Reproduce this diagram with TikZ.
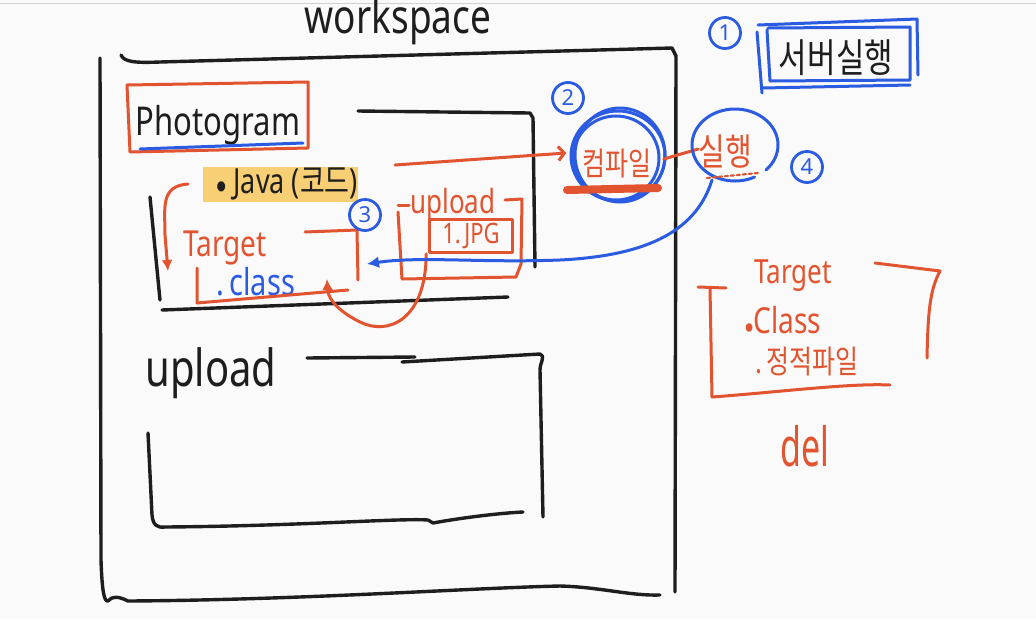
\documentclass[tikz,border=0pt]{standalone}
\usepackage{fontspec}
\usepackage{graphicx}
\setmainfont{Noto Sans}
\newfontfamily\kr{Noto Sans CJK KR}
\usepackage{tikz}
\usetikzlibrary{arrows.meta,calc,positioning}
\definecolor{inkblack}{HTML}{1E1E1E}
\definecolor{inkred}{HTML}{E2542F}
\definecolor{inkblue}{HTML}{2B5BE0}
\definecolor{marker}{HTML}{F8CF74}
\definecolor{paper}{HTML}{FAFAFA}
\newcommand{\fs}[1]{\fontsize{#1}{#1}\selectfont}
\newcommand{\hand}[1]{\scalebox{1}[1.28]{#1}}
\tikzset{
  every picture/.append style={line cap=round,line join=round},
  wb black/.style={draw=inkblack,line width=3.4pt},
  wb red/.style={draw=inkred,line width=3pt},
  wb blue/.style={draw=inkblue,line width=3pt},
  wb label/.style={inner sep=0pt,anchor=base},
  wb num/.style={circle,draw=inkblue,line width=2.8pt,text=inkblue,inner sep=0pt,minimum size=31pt,font=\fs{22}},
  wb arrow red/.style={wb red,-{Latex[length=11pt,width=11pt]}},
  wb arrow blue/.style={wb blue,-{Latex[length=12pt,width=12pt]}},
  wb open arrow/.style={wb red,-{Straight Barb[length=6pt,width=14pt]}}
}

\begin{document}
\begin{tikzpicture}[x=1pt,y=-1pt]
  \fill[paper] (0,0) rectangle (1036,619);
  \useasboundingbox (0,0) rectangle (1036,619);
  \draw[black!18,line width=1pt] (0,3) -- (1036,3);

  % workspace frame
  \node[wb label,text=inkblack,font=\fs{37}] (workspace) at (398,33) {\hand{workspace}};
  \draw[wb black] (121,55) .. controls (124,62) and (135,63) .. (160,62) -- (672,48) -- (676,56) -- (675,592);
  \draw[wb black] (100,58) -- (101,560) .. controls (102,590) and (104,602) .. (108,601)
    .. controls (112,596) and (118,596) .. (128,601) .. controls (300,600) and (470,588) .. (560,586)
    .. controls (600,587) and (630,596) .. (660,595);

  % Photogram project
  \node[wb label,text=inkblack,font=\fs{31}] (photogram) at (218,135) {\hand{Photogram}};
  \draw[wb red] (127,85) -- (308,82) -- (308,148) -- (130,152) -- cycle;
  \draw[wb blue] (140,149) -- (303,143);
  \draw[wb black] (358,111) -- (530,113) -- (533,118) -- (535,267);
  \draw[wb black] (150,197) -- (160,300);
  \draw[wb black] (162,310) -- (508,297);

  \fill[marker] (203,167) rectangle (358,202);
  \node[wb label,text=inkblack,font=\fs{27}] (java) at (287,193) {\hand{{\fs{20}$\bullet$} Java ({\kr 코드})}};
  \coordinate (javahook) at (188,184);
  \coordinate (tgtl) at (168,271);
  \draw[wb arrow red] (javahook) .. controls (160,186) and (165,208) .. (165,235) -- (tgtl);

  \node[wb label,text=inkred,font=\fs{28}] (target) at (225,256) {\hand{Target}};
  \node[wb label,text=inkblue,font=\fs{29}] (cls) at (256,295) {\hand{.\,class}};
  \draw[wb red] (305,232) -- (357,230) -- (358,280);
  \draw[wb red] (197,268) -- (197,303) -- (348,290);
  \node[wb num] (n3) at (365,215) {3};

  % upload folder inside project
  \node[wb label,text=inkred,font=\fs{26}] (upsmall) at (453,213) {\hand{upload}};
  \draw[wb red] (398,205) -- (409,205);
  \draw[wb red] (505,200) -- (522,199) -- (521,264) -- (516,277) -- (402,279) -- (398,212);
  \node[draw=inkred,line width=2.6pt,minimum width=83pt,minimum height=33pt,inner sep=0pt,
        text=inkred,font=\fs{22}] (jpg) at (471,236) {\hand{1.\,JPG}};
  \coordinate (clsin) at (327,279);
  \draw[wb arrow red] ([xshift=-2pt]jpg.south west) .. controls (426,320) and (388,336) .. (360,322)
    .. controls (340,312) and (328,300) .. (clsin);

  % compile
  \node[wb num] (n2) at (568,98) {2};
  \node[wb label,text=inkred,font=\kr\fs{25}] (compile) at (617,175) {\hand{컴파일}};
  \draw[wb blue] (618,156) ellipse [x radius=47, y radius=45];
  \draw[wb blue] (616,158) ellipse [x radius=43, y radius=42];
  \draw[wb blue] (620,155) ellipse [x radius=45, y radius=47];
  \draw[inkred,line width=8pt] (567,190) -- (658,188);
  \coordinate (javatail) at (395,165);
  \draw[wb open arrow] (javatail) -- ([shift={(-16,-10)}]compile.west);

  % run
  \node[wb label,text=inkred,font=\kr\fs{29}] (run) at (725,165) {\hand{실행}};
  \draw[wb red] ([xshift=12pt,yshift=4pt]compile.east) -- ([yshift=2pt]run.west);
  \draw[wb blue] (735,145) ++(44:43 and 36) arc[start angle=44, end angle=-297, x radius=43, y radius=36];
  \draw[wb red,line width=2.2pt,dashed] (707,178) -- (758,173);
  \node[wb num] (n4) at (807,167) {4};
  \coordinate (runfoot) at (712,180);
  \coordinate (tgtin) at (367,264);
  \draw[wb arrow blue] (runfoot) .. controls (695,235) and (640,256) .. (560,260)
    .. controls (480,263) and (420,256) .. (tgtin);

  % server run
  \node[wb num] (n1) at (725,33) {1};
  \node[wb label,text=inkblack,font=\kr\fs{31}] (server) at (836,72) {\hand{서버실행}};
  \draw[wb blue] (758,25) -- (917,19) -- (918,75);
  \draw[wb blue] (757,32) -- (762,93);
  \draw[wb blue] (763,88) -- (910,85);
  \draw[wb blue] (768,28) -- (910,27) -- (910,80) -- (770,81) -- (767,30);

  % upload folder
  \node[wb label,text=inkblack,font=\fs{40}] (upload) at (211,386) {\hand{upload}};
  \draw[wb black] (307,358) -- (415,357);
  \draw[wb black] (402,362) -- (540,354) .. controls (546,356) and (540,362) .. (540,370) -- (543,517);
  \draw[wb black] (148,433) -- (152,515) .. controls (153,525) and (157,528) .. (165,527)
    .. controls (300,526) and (400,518) .. (428,520) -- (433,523) .. controls (460,518) and (500,513) .. (523,512);

  % cleanup list
  \node[wb label,text=inkred,font=\fs{26}] (tgtright) at (793,283) {\hand{Target}};
  \node[wb label,text=inkred,font=\fs{28}] (clsright) at (783,333) {\hand{{\fs{18}$\bullet$}Class}};
  \node[wb label,text=inkred,font=\kr\fs{25}] (static) at (807,373) {\hand{.\,정적파일}};
  \draw[wb red] (698,287) -- (726,288);
  \draw[wb red] (710,288) -- (712,397) .. controls (780,392) and (850,383) .. (890,385);
  \draw[wb red] (875,263) -- (940,271) .. controls (930,290) and (928,310) .. (927,358);
  \node[wb label,text=inkred,font=\fs{40}] (del) at (805,466) {\scalebox{0.85}[1.35]{del}};
\end{tikzpicture}
\end{document}
